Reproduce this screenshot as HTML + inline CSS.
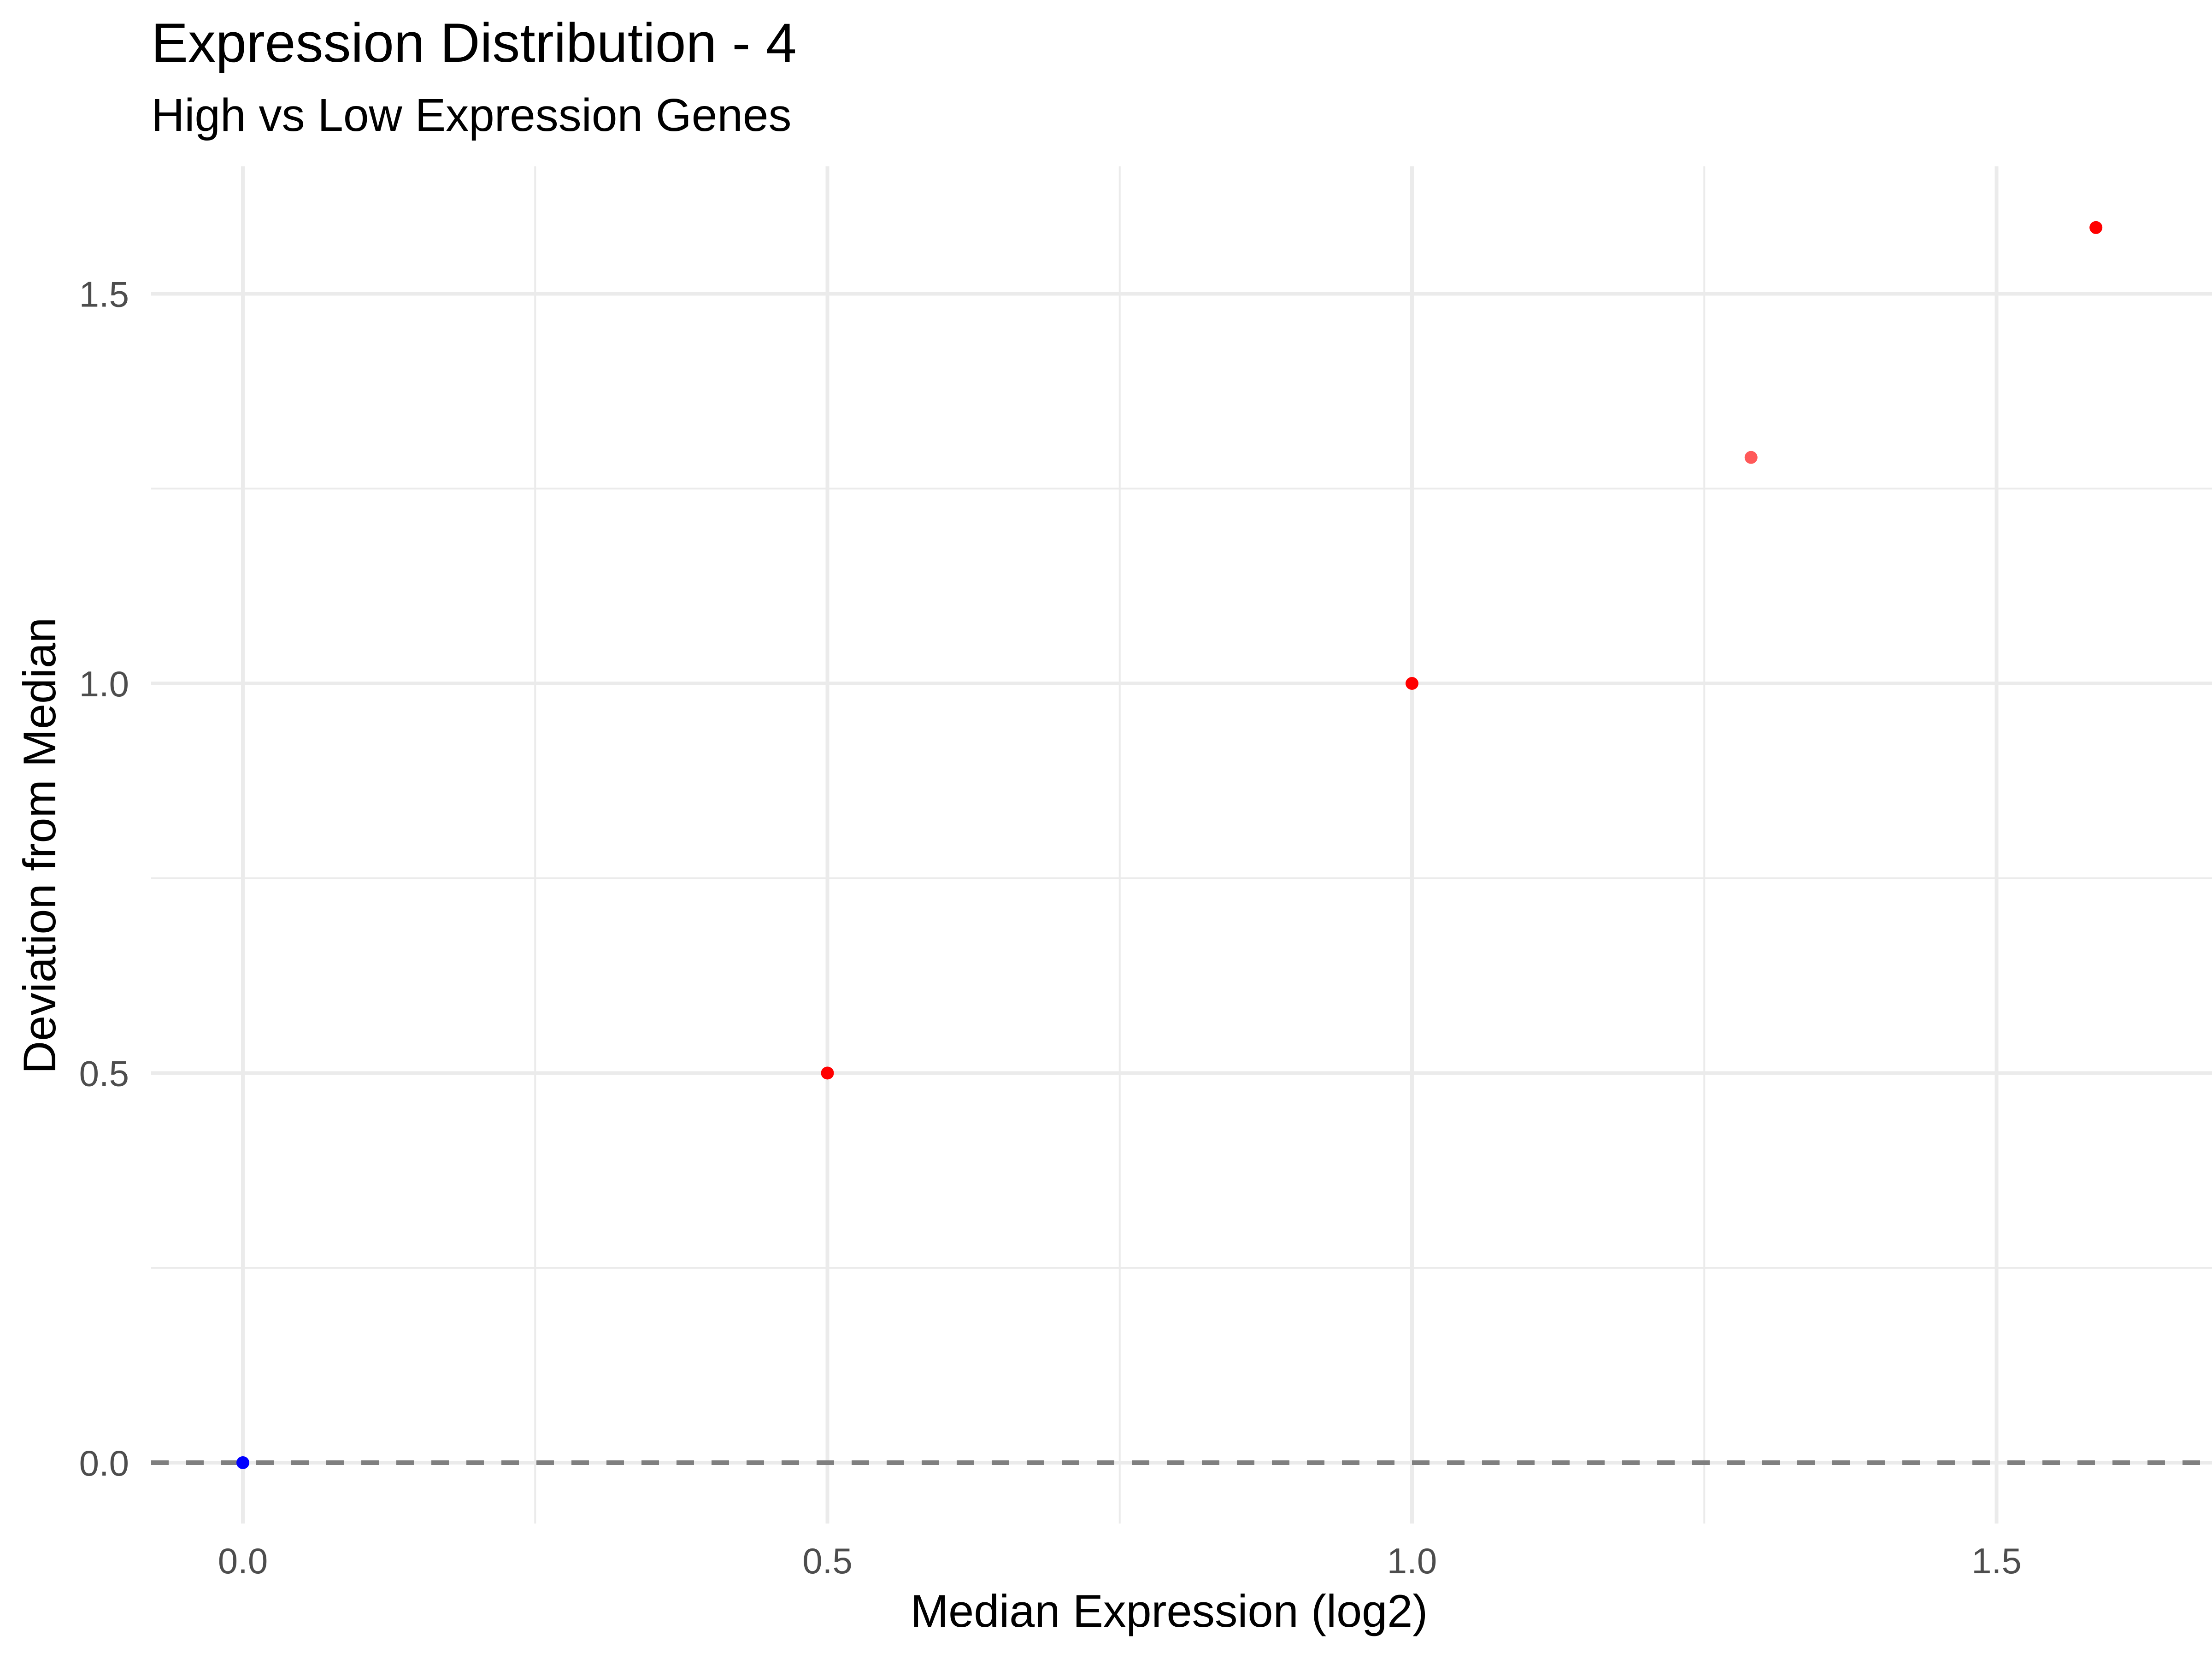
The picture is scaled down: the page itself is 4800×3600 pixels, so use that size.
<!DOCTYPE html>
<html><head><meta charset="utf-8">
<style>html,body{margin:0;padding:0;background:#fff;}svg{display:block;font-family:"Liberation Sans",sans-serif;}</style>
</head><body>
<svg id="chart" width="4800" height="3600" viewBox="0 0 4800 3600" xmlns="http://www.w3.org/2000/svg">
<rect width="4800" height="3600" fill="#fff"/>
<text x="328" y="134" font-size="120" fill="#000">Expression Distribution - 4</text>
<text x="328" y="284" font-size="100" fill="#000">High vs Low Expression Genes</text>
<g id="grid"></g>
<g id="axes"></g>
<g id="points"></g>
<text x="2537" y="3530" font-size="99" text-anchor="middle" fill="#000">Median Expression (log2)</text>
<text transform="translate(120,1835) rotate(-90)" font-size="99" text-anchor="middle" fill="#000">Deviation from Median</text>
</svg>
<script>
const xValues = [0, 0.5, 1.0, 1.29, 1.585];
const yValues = [0, 0.5, 1.0, 1.29, 1.585];
const pointGroups = ["low", "high", "high", "high", "high"];
const pointAlpha = [1, 1, 1, 0.65, 1];
const xTicks = [0, 0.5, 1.0, 1.5];
const xTickLabels = ["0.0", "0.5", "1.0", "1.5"];
const yTicks = [0, 0.5, 1.0, 1.5];
const yTickLabels = ["0.0", "0.5", "1.0", "1.5"];
const xMinor = [0.25, 0.75, 1.25];
const yMinor = [0.25, 0.75, 1.25];
const refLine = [0];

const NS = "http://www.w3.org/2000/svg";
const P = {l:328, r:4800, t:361, b:3306};
const sx = v => 527 + v * 2537;
const sy = v => 3174 - v * 1691;
function mk(tag, attrs, parent){ const e=document.createElementNS(NS,tag); for(const k in attrs) e.setAttribute(k,attrs[k]); parent.appendChild(e); return e; }
const grid = document.getElementById('grid');
const axes = document.getElementById('axes');
const pts = document.getElementById('points');

xMinor.forEach(v=>{
  const el = mk('line',{x1:sx(v),x2:sx(v),y1:P.t,y2:P.b,stroke:'#EBEBEB','stroke-width':4},grid);
  
  
});
yMinor.forEach(v=>{
  const el = mk('line',{x1:P.l,x2:P.r,y1:sy(v),y2:sy(v),stroke:'#EBEBEB','stroke-width':4},grid);
  
  
});
xTicks.forEach((v,i)=>{
  const el = mk('line',{x1:sx(v),x2:sx(v),y1:P.t,y2:P.b,stroke:'#EBEBEB','stroke-width':8},grid);
  
  
  const t = mk('text',{x:sx(v),y:3414,'font-size':78,'text-anchor':'middle',fill:'#4D4D4D'},axes);
  t.textContent = xTickLabels[i];
  
  
});
yTicks.forEach((v,i)=>{
  const el = mk('line',{x1:P.l,x2:P.r,y1:sy(v),y2:sy(v),stroke:'#EBEBEB','stroke-width':8},grid);
  
  
  const t = mk('text',{x:280,y:sy(v)+28,'font-size':78,'text-anchor':'end',fill:'#4D4D4D'},axes);
  t.textContent = yTickLabels[i];
  
  
});
refLine.forEach(v=>{
  const el = mk('line',{x1:P.l,x2:P.r,y1:sy(v),y2:sy(v),stroke:'#7F7F7F','stroke-width':10,'stroke-dasharray':'38 38'},grid);
  
  
});
xValues.forEach((x,i)=>{
  const c = mk('circle',{cx:sx(x),cy:sy(yValues[i]),r:14,fill:pointGroups[i]==='low'?'#0000FF':'#FF0000','fill-opacity':pointAlpha[i]},pts);
  
  
});
</script>
</body></html>
